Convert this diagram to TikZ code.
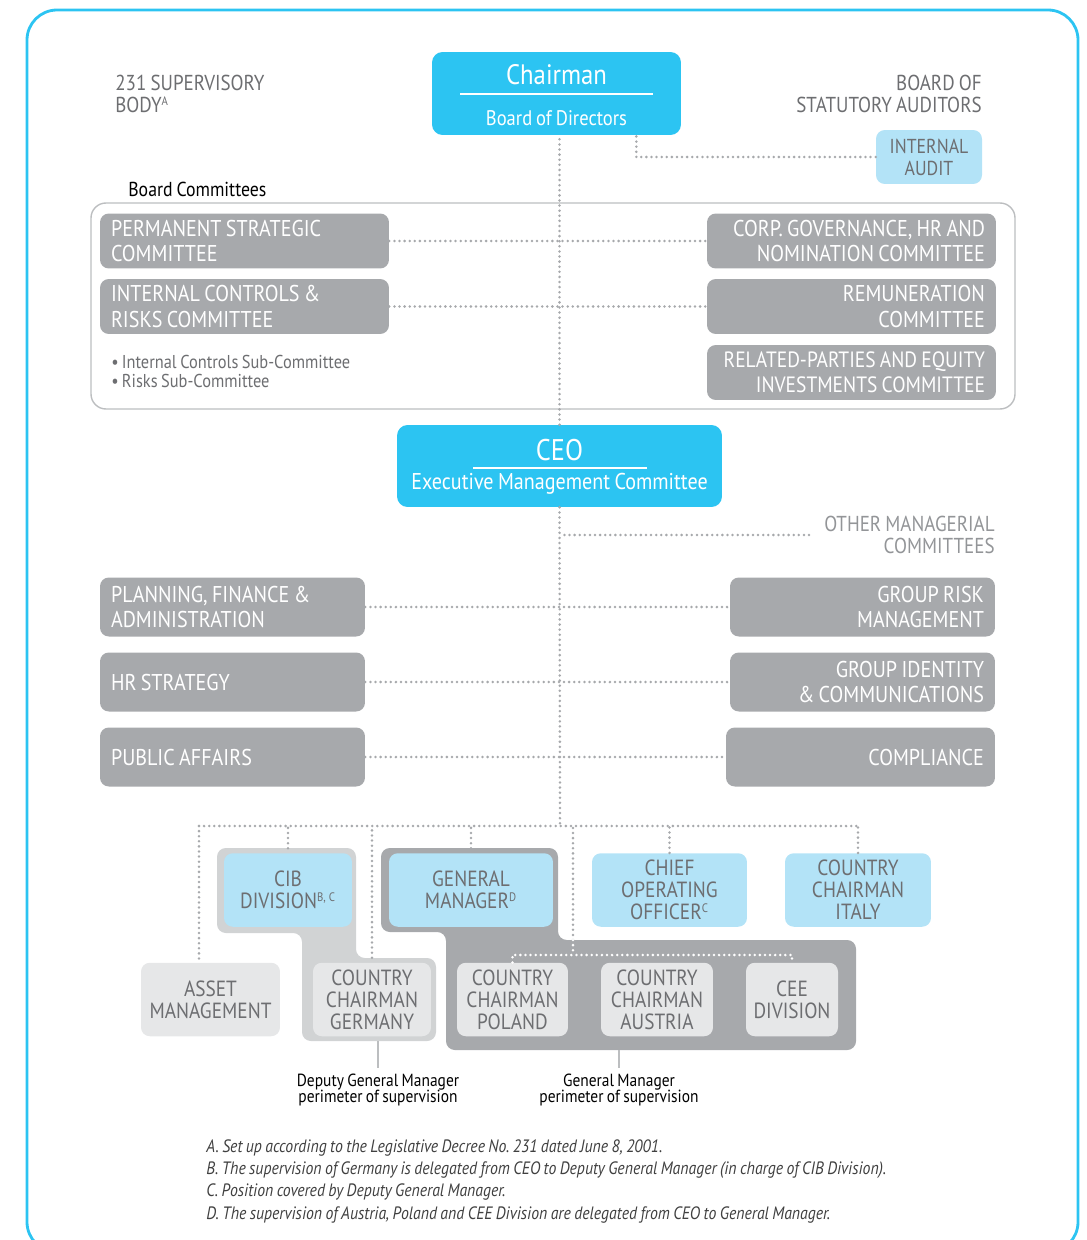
\documentclass[tikz,border=0pt]{standalone}
\usepackage{fontspec}
\setmainfont{PT Sans}[FakeStretch=0.88]
\usepackage{tikz}
\usetikzlibrary{calc}
\definecolor{ucCyan}{HTML}{2CC4F2}
\definecolor{ucLight}{HTML}{B3E3F7}
\definecolor{ucGray}{HTML}{A7A9AC}
\definecolor{ucPale}{HTML}{E6E7E8}
\definecolor{ucMid}{HTML}{D1D3D4}
\definecolor{ucText}{HTML}{6D6E71}
\definecolor{ucSoft}{HTML}{939598}
\definecolor{ucFrame}{HTML}{BCBEC0}
\newcommand{\tightsp}{\frenchspacing\spaceskip=0.19em\relax}
\newcommand{\supmark}[1]{\textsuperscript{\fontsize{7}{7}\selectfont #1}}
\tikzset{>=latex}
\tikzset{
  dotline/.style = {ucGray, line width = 1.6pt, line cap = round, dash pattern = on 0pt off 2.9pt},
  whitedot/.style = {dotline, white},
  combox/.style = {fill = ucGray, text = white, rounded corners = 5pt, minimum height = 1.1cm, inner xsep = 0.22cm, text width = 5.34cm, font = \fontsize{13}{14.4}\selectfont, execute at begin node = {\tightsp}},
  staffbox/.style = {combox, minimum height = 1.18cm, text width = 4.86cm},
  topbox/.style = {fill = ucCyan, rounded corners = 6pt},
  unitbox/.style = {text = ucText, rounded corners = 5pt, align = center, inner sep = 1pt, minimum height = 1.47cm, font = \fontsize{12.5}{12.6}\selectfont},
  bluebox/.style = {unitbox, fill = ucLight},
  palebox/.style = {unitbox, fill = ucPale},
  sidetext/.style = {text = ucText, font = \fontsize{12.3}{12.5}\selectfont, execute at begin node = {\tightsp}},
  perim/.style = {align = center, font = \fontsize{10}{9.2}\selectfont, execute at begin node = {\tightsp}}
}
\begin{document}
\begin{tikzpicture}[x = 0.02cm, y = -0.02cm]
\useasboundingbox (0,0) rectangle (1087,1240);
% outer frame
\draw[ucCyan, line width = 1.6pt, rounded corners = 0.6cm] (27,10) rectangle (1078,1252);
\draw[ucFrame, line width = 0.8pt, rounded corners = 0.3cm] (91,203) rectangle (1015,409);

% board level
\node[topbox, minimum width = 4.98cm, minimum height = 1.66cm] (chair) at (556.5,93.5) {};
\node[text = white, font = \fontsize{16}{16}\selectfont] (chairT) at (556.5,75) {Chairman};
\node[text = white, font = \fontsize{12}{12}\selectfont\tightsp] (bod) at (556.5,118) {Board of Directors};
\draw[white, line width = 0.6pt] (460,94) -- (653,94);
\node[sidetext, anchor = north west, align = left, inner sep = 0pt] (sb) at (115,75) {231 SUPERVISORY\\BODY\supmark{A}};
\node[sidetext, anchor = north east, align = right, inner sep = 0pt] (bsa) at (982,75) {BOARD OF\\STATUTORY AUDITORS};
\node[bluebox, minimum width = 2.12cm, minimum height = 1.08cm, font = \fontsize{11.5}{12.5}\selectfont] (audit) at (929,157) {INTERNAL\\AUDIT};
\draw[dotline] (audit.west) -| ([xshift = -0.9cm]chair.south east);

% board committees
\node[anchor = west, inner sep = 0pt, font = \fontsize{11.5}{12}\selectfont\tightsp] (bc) at (128,189) {Board Committees};
\node[combox, align = left] (psc) at (244.5,241) {PERMANENT STRATEGIC\\COMMITTEE};
\node[combox, align = left] (icr) at (244.5,306.5) {INTERNAL CONTROLS \&\\RISKS COMMITTEE};
\node[combox, align = right] (cgn) at (851.5,241) {CORP. GOVERNANCE, HR AND\\NOMINATION COMMITTEE};
\node[combox, align = right] (rem) at (851.5,306.5) {REMUNERATION\\COMMITTEE};
\node[combox, align = right, font = \fontsize{12.6}{14.4}\selectfont] (rpe) at (851.5,372.5) {RELATED-PARTIES AND EQUITY\\INVESTMENTS COMMITTEE};
\node[text = ucText, anchor = north west, align = left, inner sep = 0pt, font = \fontsize{10.6}{10.8}\selectfont, execute at begin node = {\tightsp}] (sub) at (111,355) {\textbullet\,Internal Controls Sub-Committee\\\textbullet\,Risks Sub-Committee};
\draw[dotline] (psc.east) -- (cgn.west);
\draw[dotline] (icr.east) -- (rem.west);

% executive level
\node[topbox, minimum width = 6.5cm, minimum height = 1.64cm] (ceo) at (559.5,466) {};
\node[text = white, font = \fontsize{17}{17}\selectfont] (ceoT) at (559.5,450) {CEO};
\node[text = white, font = \fontsize{13}{13}\selectfont\tightsp] (emc) at (559.5,484) {Executive Management Committee};
\draw[white, line width = 0.6pt] (473,468) -- (647,468);
\draw[dotline] (ceo.north) -- (ceo.north |- chair.south);
\node[text = ucSoft, anchor = east, align = right, inner xsep = 0.3cm, font = \fontsize{12.3}{12.2}\selectfont, execute at begin node = {\tightsp}] (omc) at (1010,535) {OTHER MANAGERIAL\\COMMITTEES};

\node[staffbox, align = left] (pfa) at (232.5,607) {PLANNING, FINANCE \&\\ADMINISTRATION};
\node[staffbox, align = left] (hrs) at (232.5,682) {HR STRATEGY};
\node[staffbox, align = left] (pua) at (232.5,757) {PUBLIC AFFAIRS};
\node[staffbox, align = right] (grm) at (862.5,607) {GROUP RISK\\MANAGEMENT};
\node[staffbox, align = right] (gic) at (862.5,682) {GROUP IDENTITY\\\& COMMUNICATIONS};
\node[staffbox, align = right, text width = 4.94cm] (cmp) at (860.5,757) {COMPLIANCE};
\draw[dotline] (pfa.east) -- (grm.west);
\draw[dotline] (hrs.east) -- (gic.west);
\draw[dotline] (pua.east) -- (cmp.west);

% perimeters of supervision
\fill[ucMid, rounded corners = 5pt] (217,848) -- (356,848) -- (356,958) -- (436,958) -- (436,1041) -- (302,1041) -- (302,933) -- (217,933) -- cycle;
\fill[ucGray, rounded corners = 5pt] (381,848) -- (558,848) -- (558,940) -- (856,940) -- (856,1050) -- (446,1050) -- (446,932) -- (381,932) -- cycle;

% divisions
\node[bluebox, minimum width = 2.56cm, outer ysep = 0.1cm] (cib) at (288,890) {CIB\\DIVISION\supmark{B, C}};
\node[bluebox, minimum width = 3.28cm, outer ysep = 0.1cm] (gm) at (471,890) {GENERAL\\MANAGER\supmark{D}};
\node[bluebox, minimum width = 3.1cm] (coo) at (669.5,890) {CHIEF\\OPERATING\\OFFICER\supmark{C}};
\node[bluebox, minimum width = 2.92cm] (ita) at (858,890) {COUNTRY\\CHAIRMAN\\ITALY};
\node[palebox, minimum width = 2.78cm] (asset) at (210.5,999.5) {ASSET\\MANAGEMENT};
\node[palebox, minimum width = 2.36cm, outer ysep = 0.1cm] (ger) at (372,999.5) {COUNTRY\\CHAIRMAN\\GERMANY};
\node[palebox, minimum width = 2.22cm] (pol) at (512.5,999.5) {COUNTRY\\CHAIRMAN\\POLAND};
\node[palebox, minimum width = 2.24cm] (aut) at (657,999.5) {COUNTRY\\CHAIRMAN\\AUSTRIA};
\node[palebox, minimum width = 1.84cm] (cee) at (792,999.5) {CEE\\DIVISION};

\coordinate (bus) at (560,826);
\coordinate (busL) at (199,826);
\coordinate (gmtap) at (573,940);
\coordinate (gmbus) at (573,955);
\draw[dotline] (ceo.south) -- (bus);
\draw[dotline] (omc.west) -- (omc.west -| ceo.south);
\draw[dotline] (busL) -- (bus -| ita.north);
\draw[dotline] (busL) -- (busL |- asset.north);
\draw[dotline] (cib.north) -- (cib.north |- bus);
\draw[dotline] (ger.north) -- (ger.north |- bus);
\draw[dotline] (gm.north) -- (gm.north |- bus);
\draw[dotline] (gmtap) -- (gmtap |- bus);
\draw[dotline] (coo.north) -- (coo.north |- bus);
\draw[dotline] (ita.north) -- (ita.north |- bus);
\draw[whitedot] (gmtap) -- (gmbus);
\draw[whitedot] (pol.north) |- (gmbus) -| (cee.north);

\node[perim] (dgm) at (378,1090) {Deputy General Manager\\perimeter of supervision};
\node[perim] (gmp) at (619,1090) {General Manager\\perimeter of supervision};
\coordinate (gerbot) at (378,1041);
\coordinate (gmbot) at (619,1050);
\draw[ucFrame, line width = 0.8pt] (dgm.north) -- (gerbot);
\draw[ucFrame, line width = 0.8pt] (gmp.north) -- (gmbot);

% notes
\node[anchor = north west, align = left, inner sep = 0pt, text = black!75, font = \fontsize{10.2}{12.7}\selectfont\itshape, execute at begin node = {\tightsp}] (notes) at (206,1139) {A. Set up according to the Legislative Decree No. 231 dated June 8, 2001.\\B. The supervision of Germany is delegated from CEO to Deputy General Manager (in charge of CIB Division).\\C. Position covered by Deputy General Manager.\\D. The supervision of Austria, Poland and CEE Division are delegated from CEO to General Manager.};
\end{tikzpicture}
\end{document}
